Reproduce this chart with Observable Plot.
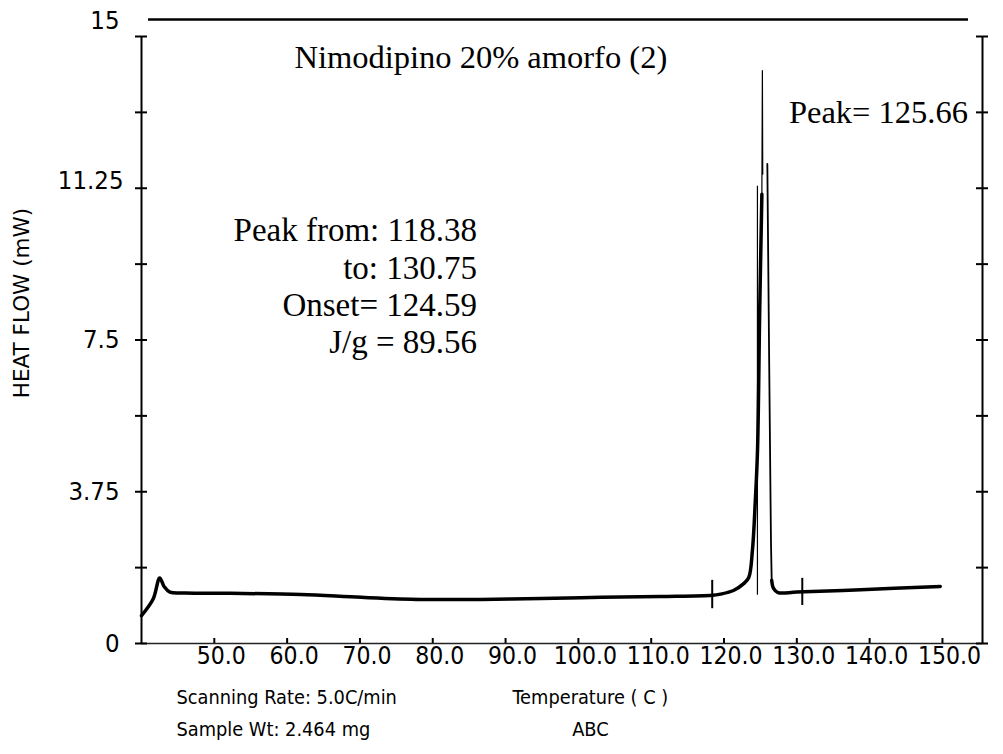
<!DOCTYPE html>
<html><head><meta charset="utf-8">
<script src="https://cdn.jsdelivr.net/npm/d3@7"></script>
<script src="https://cdn.jsdelivr.net/npm/@observablehq/plot@0.6"></script>
<style>body{margin:0;background:#fff}</style>
</head><body><div id="chart"></div>
<script>
// ---- axis ticks / labels ----
const xTicks = [50, 60, 70, 80, 90, 100, 110, 120, 130, 140, 150];
const yLabels = [0, 3.75, 7.5, 11.25, 15];
const yMinor = [0, 1.875, 3.75, 5.625, 7.5, 9.375, 11.25, 13.125, 15];
const xDomain = [40, 155.5];
const yDomain = [0, 15];

// ---- DSC trace: [temperature (C), heat flow (mW)] ----
const baselineLeft = [
  [40.0, 0.69], [41.6, 1.10], [42.5, 1.62], [43.1, 1.41], [43.9, 1.27], [46.0, 1.25],
  [52.3, 1.24], [61.9, 1.21], [70.2, 1.14], [78.4, 1.09], [86.6, 1.09], [94.9, 1.11],
  [103.1, 1.14], [111.3, 1.16], [118.4, 1.19], [119.5, 1.22], [121.3, 1.31], [122.7, 1.48],
  [123.4, 1.63], [123.9, 2.30], [124.3, 3.53], [124.6, 4.77], [124.9, 8.2], [125.2, 11.1]
];
const spike = [[125.2, 11.1], [125.27, 14.16], [125.32, 11.6]];
const descent = [[125.95, 11.85], [126.2, 7.0], [126.45, 2.5], [126.55, 1.56]];
const baselineRight = [
  [126.55, 1.56], [126.8, 1.36], [127.4, 1.26], [130.0, 1.27], [138.8, 1.33], [149.7, 1.41]
];

// ---- peak analysis markers ----
const onsetLine = [{T: 124.59, lo: 1.19, hi: 11.3}];
const limitMarks = [{T: 118.38, lo: 0.86, hi: 1.56}, {T: 130.75, lo: 0.94, hi: 1.61}];

// ---- annotations ----
const titleNotes = [
  {text: "Nimodipino 20% amorfo (2)", T: 86.6, HF: 14.48},
  {text: "Peak= 125.66", T: 141.2, HF: 13.12}
];
const peakInfo = [
  {text: "Peak from: 118.38", T: 86.08, HF: 10.2},
  {text: "to: 130.75", T: 86.08, HF: 9.27},
  {text: "Onset= 124.59", T: 86.08, HF: 8.35},
  {text: "J/g = 89.56", T: 86.08, HF: 7.44}
];
const captionTop = [
  {text: "Scanning Rate: 5.0C/min", T: 44.8, anchor: "start"},
  {text: "Temperature ( C )", T: 101.65, anchor: "middle"}
];
const captionBottom = [
  {text: "Sample Wt: 2.464 mg", T: 44.8, anchor: "start"},
  {text: "ABC", T: 101.65, anchor: "middle"}
];

const serif = "'Liberation Serif', 'Times New Roman', serif";
const sans = "'DejaVu Sans Condensed', 'DejaVu Sans', sans-serif";

const yLow = yLabels.filter(d => d < 10);
const yMid = yLabels.filter(d => d > 10 && d < 15);
const yTop = yLabels.filter(d => d >= 15);

function captionMarks(rows, dy) {
  return ["start", "middle"].map(a =>
    Plot.text(rows.filter(d => d.anchor === a), {
      x: "T", text: "text", textAnchor: a, frameAnchor: "bottom", dy, fontSize: 19.8
    })
  );
}

const chart = Plot.plot({
  width: 1003,
  height: 754,
  marginLeft: 141,
  marginRight: 21,
  marginTop: 36,
  marginBottom: 111,
  style: {background: "white", color: "black", fontFamily: sans, overflow: "visible"},
  x: {domain: xDomain},
  y: {domain: yDomain},
  marks: [
    // axis lines
    Plot.ruleY([0], {stroke: "#222", strokeWidth: 1.5}),
    Plot.ruleX([xDomain[0], xDomain[1]], {y1: 0, y2: 15, strokeWidth: 2}),
    Plot.ruleY([15], {dy: -17, insetLeft: 7, insetRight: 14, strokeWidth: 2.5}),
    // cross ticks on left and right axes
    Plot.ruleY(yMinor, {x1: xDomain[0], x2: xDomain[0], insetLeft: -6, insetRight: -6, strokeWidth: 2}),
    Plot.ruleY(yMinor, {x1: xDomain[1], x2: xDomain[1], insetLeft: -6, insetRight: -6, strokeWidth: 2}),
    // x ticks (inward)
    Plot.ruleX(xTicks, {y1: 0, y2: 0, insetTop: -5, strokeWidth: 2}),
    Plot.axisX({ticks: xTicks, tickSize: 0, tickPadding: 3, dx: 7, fontSize: 24.5,
      tickFormat: d => d.toFixed(1), label: null}),
    Plot.axisY({ticks: yLow, tickSize: 0, tickPadding: 22, fontSize: 25.5,
      tickFormat: d => String(d), label: null}),
    Plot.axisY({ticks: yMid, tickSize: 0, tickPadding: 18, dy: -7, fontSize: 25.5,
      tickFormat: d => String(d), label: null}),
    Plot.axisY({ticks: yTop, tickSize: 0, tickPadding: 22, dy: -16, fontSize: 25.5,
      tickFormat: d => String(d), label: null}),
    Plot.text(["HEAT FLOW (mW)"], {frameAnchor: "left", textAnchor: "middle", rotate: -90, dx: -119, dy: -37,
      fontSize: 21.5, fontFamily: "'DejaVu Sans', sans-serif"}),
    // trace
    Plot.ruleX(onsetLine, {x: "T", y1: "lo", y2: "hi", strokeWidth: 1.2}),
    Plot.ruleX(limitMarks, {x: "T", y1: "lo", y2: "hi", strokeWidth: 2}),
    Plot.line(baselineLeft, {x: d => d[0], y: d => d[1], strokeWidth: 3.5, curve: "catmull-rom"}),
    Plot.line(spike, {x: d => d[0], y: d => d[1], strokeWidth: 1.2}),
    Plot.line(descent, {x: d => d[0], y: d => d[1], strokeWidth: 1.8}),
    Plot.line(baselineRight, {x: d => d[0], y: d => d[1], strokeWidth: 3.5, curve: "catmull-rom"}),
    // annotations
    Plot.text(titleNotes, {x: "T", y: "HF", text: "text", fontSize: 32.5, fontFamily: serif}),
    Plot.text(peakInfo, {x: "T", y: "HF", text: "text", textAnchor: "end", fontSize: 33, fontFamily: serif}),
    ...captionMarks(captionTop, 60),
    ...captionMarks(captionBottom, 92)
  ]
});
document.getElementById("chart").appendChild(chart);
</script>
</body></html>
